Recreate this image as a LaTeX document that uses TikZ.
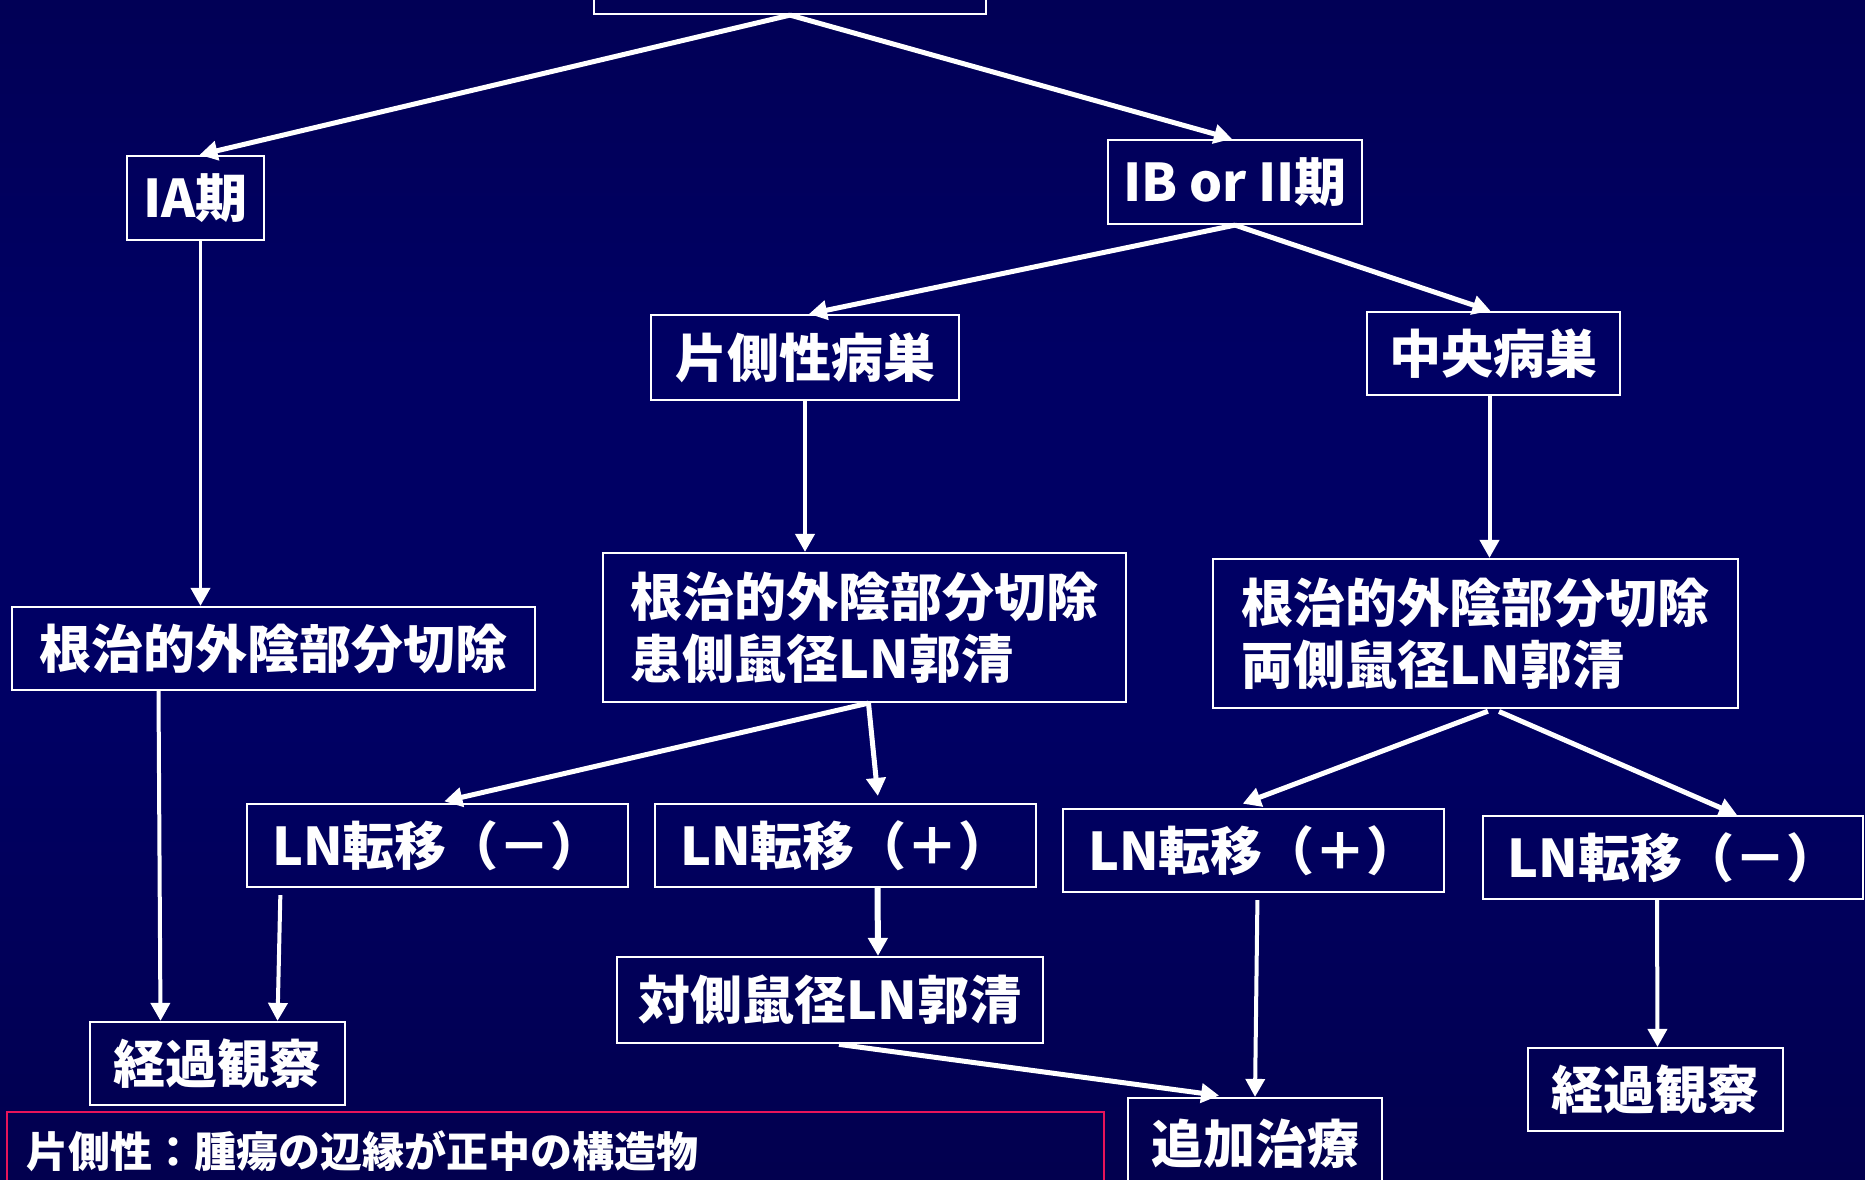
\documentclass[tikz,border=0pt]{standalone}
\usepackage{fontspec}
\setmainfont{Noto Sans CJK JP}
\usetikzlibrary{arrows.meta}
\definecolor{bgtop}{HTML}{03003E}
\definecolor{bgmid}{HTML}{000064}
\definecolor{bgbot}{HTML}{040034}
\definecolor{notered}{HTML}{E8145A}
\pgfdeclareverticalshading{bgshade}{100bp}{color(0bp)=(bgbot); color(45bp)=(bgmid); color(60bp)=(bgmid); color(100bp)=(bgtop)}
\begin{document}
\begin{tikzpicture}[x=1pt,y=-1pt,
  box/.style={draw=white,line width=2.2pt,text=white,font=\bfseries\fontsize{52}{62}\selectfont,inner sep=0pt,align=left},
  arr/.style={draw=white,line width=5pt,-{Triangle[length=18pt,width=19pt]}}]
\useasboundingbox (0,0) rectangle (1865,1180);
\clip (0,0) rectangle (1865,1180);
\shade[shading=bgshade] (0,0) rectangle (1865,1180);

\node[box,minimum width=392pt,minimum height=60pt] (top) at (790,-16) {};
\node[box,minimum width=137pt,minimum height=84pt] (IA) at (195.5,198) {IA期};
\node[box,minimum width=254pt,minimum height=84pt] (IB) at (1235,182) {IB or II期};
\node[box,minimum width=308pt,minimum height=85pt] (Kata) at (805,357.5) {片側性病巣};
\node[box,minimum width=253pt,minimum height=83pt] (Chuo) at (1493.5,353.5) {中央病巣};
\node[box,minimum width=523pt,minimum height=83pt] (L) at (273.5,648.5) {根治的外陰部分切除};
\node[box,minimum width=523pt,minimum height=149pt] (M) at (864.5,627.5) {根治的外陰部分切除\\患側鼠径LN郭清};
\node[box,minimum width=525pt,minimum height=149pt] (R) at (1475.5,633.5) {根治的外陰部分切除\\両側鼠径LN郭清};
\node[box,minimum width=381pt,minimum height=83pt] (LNmL) at (437.5,845.5) {LN転移（－）};
\node[box,minimum width=381pt,minimum height=83pt] (LNpM) at (845.5,845.5) {LN転移（＋）};
\node[box,minimum width=381pt,minimum height=83pt] (LNpR) at (1253.5,850.5) {LN転移（＋）};
\node[box,minimum width=380pt,minimum height=83pt] (LNmR) at (1673,857.5) {LN転移（－）};
\node[box,minimum width=426pt,minimum height=86pt] (Tai) at (830,1000) {対側鼠径LN郭清};
\node[box,minimum width=255pt,minimum height=83pt] (KL) at (217.5,1063.5) {経過観察};
\node[box,minimum width=255pt,minimum height=83pt] (KR) at (1655.5,1089.5) {経過観察};
\node[box,minimum width=254pt,minimum height=92pt] (Tsu) at (1255,1144) {追加治療};
\node[draw=notered,line width=2.2pt,text=white,minimum width=1097pt,minimum height=78pt,
      text width=1059pt,inner xsep=19pt,inner ysep=0pt,align=left,
      font=\bfseries\fontsize{42}{50}\selectfont] (note) at (555.5,1151) {片側性：腫瘍の辺縁が正中の構造物};

\draw[arr] (top.south) -- ([xshift=4pt]IA.north);
\draw[arr] (top.south) -- ([xshift=-3pt]IB.north);
\draw[arr,line width=3.8pt] ([xshift=5pt]IA.south) -- ([xshift=5pt]IA.south |- L.north);
\draw[arr] (IB.south) -- ([xshift=4pt]Kata.north);
\draw[arr] (IB.south) -- ([xshift=-3pt]Chuo.north);
\draw[arr,line width=4pt] (Kata.south) -- (Kata.south |- M.north);
\draw[arr,line width=4pt] ([xshift=-4pt]Chuo.south) -- ([xshift=-4pt]Chuo.south |- R.north);
\draw[arr,line width=4pt] ([xshift=-115pt]L.south) -- ([xshift=-57pt]KL.north);
\draw[arr,shorten >=7pt] ([xshift=4pt]M.south) -- (LNmL.north);
\draw[arr,shorten >=7pt] ([xshift=4pt]M.south) -- ([xshift=33pt]LNpM.north);
\draw[arr,shorten <=6pt,shorten >=12pt] ([xshift=18pt]R.south) -- ([xshift=-22pt]LNpR.north);
\draw[arr,shorten <=6pt] ([xshift=18pt]R.south) -- ([xshift=64pt]LNmR.north);
\draw[arr,line width=4pt,shorten <=7pt] ([xshift=-157pt]LNmL.south) -- ([xshift=60pt]KL.north);
\draw[arr,line width=6pt] ([xshift=32pt]LNpM.south) -- ([xshift=48pt]Tai.north);
\draw[arr,shorten <=2pt,shorten >=10pt] ([xshift=7pt]Tai.south) -- ([xshift=-26pt]Tsu.north);
\draw[arr,line width=4pt,shorten <=7pt] ([xshift=4pt]LNpR.south) -- (Tsu.north);
\draw[arr,line width=4pt] ([xshift=-16pt]LNmR.south) -- ([xshift=2pt]KR.north);
\end{tikzpicture}
\end{document}
